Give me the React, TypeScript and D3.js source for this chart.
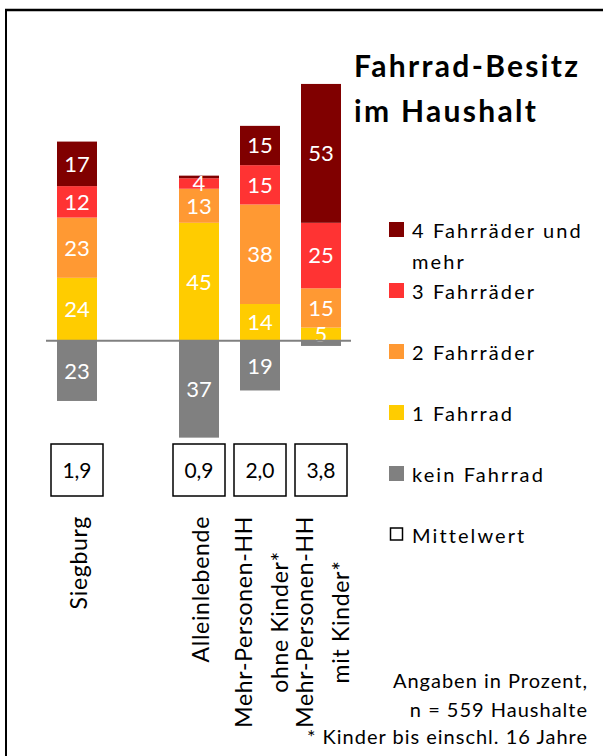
import { useEffect, useRef } from 'react';
import * as d3 from 'd3';

const slots = ['Siegburg', 'leer', 'Alleinlebende', 'ohneKinder', 'mitKinder'];
const groups = ['Siegburg', 'Alleinlebende', 'ohneKinder', 'mitKinder'];
const groupLabels = [['Siegburg'], ['Alleinlebende'], ['Mehr-Personen-HH', 'ohne Kinder*'], ['Mehr-Personen-HH', 'mit Kinder*']];

const keinFahrrad = [23, 37, 19, 2];
const einFahrrad = [24, 45, 14, 5];
const zweiFahrraeder = [23, 13, 38, 15];
const dreiFahrraeder = [12, 4, 15, 25];
const vierFahrraeder = [17, 1, 15, 53];
const mittelwerte = ['1,9', '0,9', '2,0', '3,8'];

const seriesKeys = ['kein', 'eins', 'zwei', 'drei', 'vier'];
const seriesColors = ['#808080', '#FFCC00', '#FF9933', '#FF3333', '#800000'];
const legendItems = [
  { lines: ['4 Fahrräder und', 'mehr'], color: '#800000' },
  { lines: ['3 Fahrräder'], color: '#FF3333' },
  { lines: ['2 Fahrräder'], color: '#FF9933' },
  { lines: ['1 Fahrrad'], color: '#FFCC00' },
  { lines: ['kein Fahrrad'], color: '#808080' },
  { lines: ['Mittelwert'], color: 'none' },
];
const notes = ['Angaben in Prozent,', 'n = 559 Haushalte', '* Kinder bis einschl. 16 Jahre'];

const FONT = 'Lato, sans-serif';

export default function App() {
  const ref = useRef<SVGSVGElement | null>(null);

  useEffect(() => {
    if (!ref.current) return;
    const svg = d3.select(ref.current);
    svg.selectAll('*').remove();

    const x = d3.scalePoint<string>().domain(slots).range([77, 321]);
    const y = d3.scaleLinear().domain([-40, 100]).range([445.5, 78.7]);
    const barW = 40;

    // Rahmen (nur oben und links sichtbar)
    svg.append('line').attr('x1', 5).attr('x2', 603).attr('y1', 10).attr('y2', 10).attr('stroke', '#000').attr('stroke-width', 2.5);
    svg.append('line').attr('x1', 6).attr('x2', 6).attr('y1', 9).attr('y2', 756).attr('stroke', '#000').attr('stroke-width', 2);

    const rows = groups.map((g, i) => ({
      group: g,
      kein: -keinFahrrad[i],
      eins: einFahrrad[i],
      zwei: zweiFahrraeder[i],
      drei: dreiFahrraeder[i],
      vier: vierFahrraeder[i],
    }));
    const stacked = d3.stack<any>().keys(seriesKeys).offset(d3.stackOffsetDiverging)(rows);

    const layers = svg.append('g').selectAll('g').data(stacked).enter().append('g')
      .attr('fill', (_d, i) => seriesColors[i]);
    layers.selectAll('rect').data((d) => d).enter().append('rect')
      .attr('x', (d: any) => (x(d.data.group) as number) - barW / 2)
      .attr('width', barW)
      .attr('y', (d) => y(d[1]))
      .attr('height', (d) => y(d[0]) - y(d[1]));

    const labels = svg.append('g').attr('font-family', FONT).attr('font-size', 22).attr('fill', '#fff').attr('text-anchor', 'middle');
    stacked.forEach((layer) => {
      layer.forEach((d: any) => {
        const v = Math.abs(d[1] - d[0]);
        if (v < 4) return;
        labels.append('text')
          .attr('x', x(d.data.group) as number)
          .attr('y', (y(d[0]) + y(d[1])) / 2)
          .attr('dy', '0.36em')
          .text(v);
      });
    });

    // Nulllinie
    svg.append('line').attr('x1', 46).attr('x2', 351).attr('y1', y(0)).attr('y2', y(0)).attr('stroke', '#808080').attr('stroke-width', 2);

    // Mittelwert-Kästchen
    const means = svg.append('g').attr('font-family', FONT).attr('font-size', 21);
    groups.forEach((g, i) => {
      const cx = x(g) as number;
      means.append('rect').attr('x', cx - 26).attr('y', 444).attr('width', 52).attr('height', 52)
        .attr('fill', '#fff').attr('stroke', '#000').attr('stroke-width', 1.5);
      means.append('text').attr('x', cx).attr('y', 470).attr('dy', '0.36em').attr('text-anchor', 'middle').text(mittelwerte[i]);
    });

    // Kategorien, gedreht
    const cats = svg.append('g').attr('font-family', FONT).attr('font-size', 23).attr('letter-spacing', 0.7).attr('fill', '#000');
    groups.forEach((g, i) => {
      const cx = (x(g) as number) + 10;
      const lines = groupLabels[i];
      const grp = cats.append('g');
      const texts = lines.map((t) => grp.append('text').attr('text-anchor', 'middle').text(t));
      const maxLen = d3.max(texts, (t) => (t.node() as SVGTextElement).getComputedTextLength()) || 0;
      const cy = 516 + maxLen / 2;
      texts.forEach((t, j) => {
        const bx = cx + (j - (lines.length - 1) / 2) * 36;
        t.attr('transform', `translate(${bx},${cy}) rotate(-90)`);
      });
    });

    // Titel
    const title = svg.append('g').attr('font-family', FONT).attr('font-weight', 'bold').attr('font-size', 30).attr('letter-spacing', 2.3);
    title.append('text').attr('x', 354).attr('y', 77).text('Fahrrad-Besitz');
    title.append('text').attr('x', 354).attr('y', 121.7).text('im Haushalt');

    // Legende
    const legend = svg.append('g').attr('font-family', FONT).attr('font-size', 20).attr('letter-spacing', 2.1);
    legendItems.forEach((item, i) => {
      const base = 238 + i * 61;
      if (item.color === 'none') {
        legend.append('rect').attr('x', 390.5).attr('y', base - 15).attr('width', 12).attr('height', 12)
          .attr('fill', '#fff').attr('stroke', '#000').attr('stroke-width', 1.5);
      } else {
        legend.append('rect').attr('x', 389).attr('y', base - 16).attr('width', 15).attr('height', 15).attr('fill', item.color);
      }
      item.lines.forEach((l, j) => {
        legend.append('text').attr('x', 412).attr('y', base + j * 31).text(l);
      });
    });

    // Anmerkungen
    const nt = svg.append('g').attr('font-family', FONT).attr('font-size', 20).attr('letter-spacing', 1).attr('text-anchor', 'end');
    [688, 716.5, 743.5].forEach((by, i) => nt.append('text').attr('x', 588).attr('y', by).text(notes[i]));
  }, []);

  return (
    <svg ref={ref} width={603} height={756} style={{ position: 'absolute', left: 0, top: 0, background: '#fff' }} />
  );
}
